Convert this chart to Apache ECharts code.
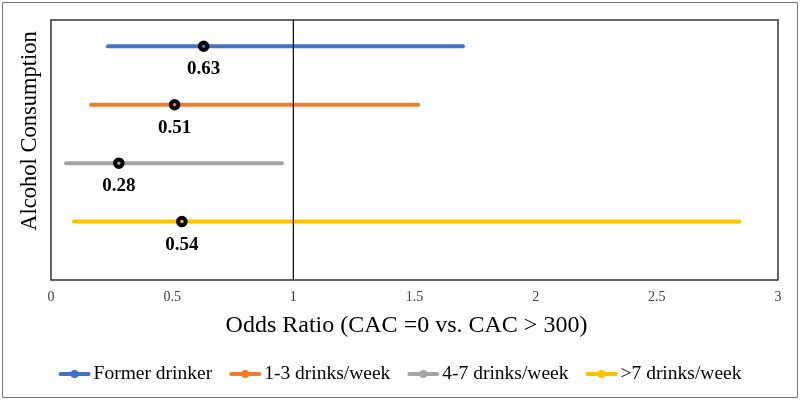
<!DOCTYPE html>
<html>
<head>
<meta charset="utf-8">
<script src="https://cdn.jsdelivr.net/npm/echarts@6/dist/echarts.min.js"></script>
<style>html,body{margin:0;padding:0;background:#fff}#c{width:800px;height:402px}</style>
</head>
<body>
<div id="c"></div>
<script>
const categories = ['Former drinker', '1-3 drinks/week', '4-7 drinks/week', '>7 drinks/week'];
const estimates = [0.63, 0.51, 0.28, 0.54];
const lower = [0.235, 0.165, 0.062, 0.095];
const upper = [1.70, 1.515, 0.953, 2.84];
const rowPos = [4, 3, 2, 1];
const colors = ['#4472C4', '#ED7D31', '#A5A5A5', '#FFC000'];
const xTicks = { min: 0, max: 3, interval: 0.5 };
const refValue = 1;

const font = 'Liberation Serif, Times New Roman, serif';
const series = [];
categories.forEach((name, i) => {
  series.push({
    name: name,
    type: 'line',
    data: [[lower[i], rowPos[i]], [upper[i], rowPos[i]]],
    showSymbol: false,
    symbol: 'circle',
    symbolSize: 8,
    lineStyle: { width: 4, color: colors[i], cap: 'round' },
    itemStyle: { color: colors[i] },
    z: 2,
    silent: true
  });
  series.push({
    name: name,
    type: 'scatter',
    data: [[estimates[i], rowPos[i]]],
    symbol: 'circle',
    symbolSize: 7.5,
    itemStyle: { color: colors[i], borderColor: '#000', borderWidth: 4, opacity: 1 },
    label: {
      show: true, position: 'bottom', distance: 8,
      formatter: p => p.value[0].toFixed(2),
      fontFamily: font, fontWeight: 'bold', fontSize: 19, color: '#000'
    },
    z: 4,
    silent: true
  });
});
series.push({
  type: 'line',
  data: [[refValue, 0], [refValue, 4.45]],
  showSymbol: false,
  lineStyle: { width: 1.2, color: '#000' },
  z: 3,
  silent: true
});

const chart = echarts.init(document.getElementById('c'));
chart.setOption({
  animation: false,
  backgroundColor: '#fff',
  graphic: [{ type: 'rect', shape: { x: 2.5, y: 2.5, width: 795, height: 395 }, style: { fill: 'none', stroke: '#777', lineWidth: 1 }, silent: true }],
  grid: { left: 51, right: 22, top: 20, bottom: 122, show: true, borderColor: '#333', borderWidth: 1.5, backgroundColor: 'transparent' },
  xAxis: {
    type: 'value', min: xTicks.min, max: xTicks.max, interval: xTicks.interval,
    axisLine: { show: false }, axisTick: { show: false }, splitLine: { show: false },
    axisLabel: { fontFamily: font, fontSize: 14, color: '#404040', margin: 10 },
    name: 'Odds Ratio (CAC =0 vs. CAC > 300)', nameLocation: 'middle', nameGap: 34,
    nameTextStyle: { fontFamily: font, fontSize: 24, color: '#000', padding: [0, 16, 0, 0] }
  },
  yAxis: {
    type: 'value', min: 0, max: 4.45,
    axisLine: { show: false }, axisTick: { show: false }, splitLine: { show: false }, axisLabel: { show: false },
    name: 'Alcohol Consumption', nameLocation: 'middle', nameGap: 9,
    nameTextStyle: { fontFamily: font, fontSize: 22.5, color: '#000', padding: [0, 0, 0, 38] }
  },
  legend: {
    data: categories, bottom: 13, left: 'center', itemWidth: 28, itemHeight: 10, itemGap: 17,
    lineStyle: { width: 4 },
    textStyle: { fontFamily: font, fontSize: 19.5, color: '#000' }
  },
  series: series
});
</script>
</body>
</html>
